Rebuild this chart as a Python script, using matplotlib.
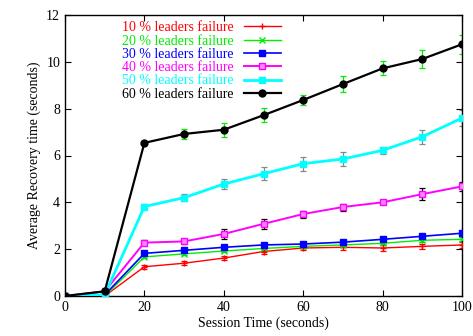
import matplotlib
matplotlib.use("Agg")
import matplotlib.pyplot as plt

x = [0, 10, 20, 30, 40, 50, 60, 70, 80, 90, 100]
labels = ["10 % leaders failure", "20 % leaders failure", "30 % leaders failure",
          "40 % leaders failure", "50 % leaders failure", "60 % leaders failure"]
colors = ["#ff0000", "#00ee00", "#0000ff", "#ff00ff", "#00ffff", "#000000"]
err_colors = ["#ff0000", "#00cc00", "#0000ff", "#000000", "#888888", "#00ee00"]

y10 = [0, 0.0, 1.25, 1.4, 1.62, 1.9, 2.05, 2.08, 2.05, 2.12, 2.18]
y20 = [0, 0.0, 1.67, 1.8, 1.92, 2.03, 2.12, 2.18, 2.25, 2.38, 2.42]
y30 = [0, 0.05, 1.82, 1.95, 2.08, 2.18, 2.22, 2.3, 2.42, 2.55, 2.68]
y40 = [0, 0.2, 2.28, 2.33, 2.65, 3.08, 3.5, 3.8, 4.0, 4.35, 4.68]
y50 = [0, 0.05, 3.82, 4.2, 4.78, 5.22, 5.65, 5.85, 6.22, 6.8, 7.6]
y60 = [0, 0.2, 6.54, 6.92, 7.1, 7.72, 8.37, 9.05, 9.72, 10.12, 10.75]

e10 = [0, 0, 0.08, 0.08, 0.1, 0.1, 0.1, 0.1, 0.12, 0.12, 0.12]
e20 = [0, 0, 0.05, 0.05, 0.05, 0.05, 0.05, 0.05, 0.05, 0.08, 0.08]
e30 = [0, 0, 0.05, 0.05, 0.05, 0.05, 0.05, 0.05, 0.05, 0.08, 0.1]
e40 = [0, 0, 0.1, 0.1, 0.2, 0.2, 0.15, 0.15, 0.08, 0.25, 0.2]
e50 = [0, 0, 0.1, 0.15, 0.2, 0.28, 0.3, 0.3, 0.15, 0.3, 0.35]
e60 = [0, 0, 0.1, 0.2, 0.3, 0.3, 0.2, 0.35, 0.3, 0.4, 0.4]

series = [y10, y20, y30, y40, y50, y60]
errs = [e10, e20, e30, e40, e50, e60]
markers = ["+", "x", "s", "s", "s", "o"]
msizes = [4, 4, 4, 5, 5, 5]
lws = [1.0, 1.0, 1.2, 1.4, 2.0, 1.6]
mfcs = [None, None, None, "#ff88ff", None, None]

plt.rcParams['font.family'] = ['Liberation Serif', 'DejaVu Serif']
fig = plt.figure(figsize=(4.73, 3.36), dpi=100)
ax = fig.add_axes([65/473, 40/336, (462-65)/473, (296-15)/336])

for ys, es, c, ec, m, ms, lw, lab, mfc in zip(series, errs, colors, err_colors, markers, msizes, lws, labels, mfcs):
    ax.errorbar(x, ys, yerr=es, fmt='none', ecolor=ec, elinewidth=0.9, capsize=2, capthick=0.9, zorder=2)
    ax.plot(x, ys, color=c, lw=lw, marker=m, ms=ms, mfc=mfc if mfc else c, mec=c, mew=1.0, label=lab, zorder=3)

ax.set_xlim(0, 100)
ax.set_ylim(0, 12)
ax.set_xticks([0, 20, 40, 60, 80, 100])
ax.set_yticks([0, 2, 4, 6, 8, 10, 12])
ax.tick_params(direction='in', top=True, right=True, labelsize=10, length=4)
ax.set_xlabel("Session Time (seconds)", fontsize=10, labelpad=2)
ax.set_ylabel("Average Recovery time (seconds)", fontsize=10)
for s in ax.spines.values():
    s.set_linewidth(1.0)

leg = ax.legend(loc='upper left', bbox_to_anchor=(0.12, 1.012), frameon=False, markerfirst=False,
                labelcolor=colors, fontsize=10, handlelength=2.7, handletextpad=0.7,
                labelspacing=0.02, borderaxespad=0.3)

fig.savefig("out.png", dpi=100)
